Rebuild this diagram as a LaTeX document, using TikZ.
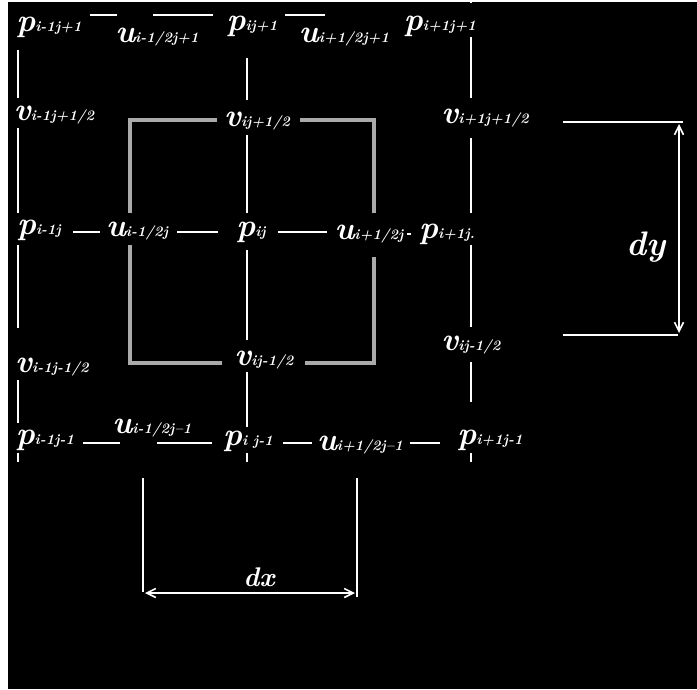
\documentclass[tikz,border=0pt]{standalone}
\usepackage{fontspec}
\usetikzlibrary{arrows.meta}
\definecolor{rectgray}{RGB}{170,170,170}
\newcommand\glab[2]{{\fontsize{32}{32}\selectfont #1}{\fontsize{14.5}{14.5}\selectfont\addfontfeature{LetterSpace=6}#2}}
\begin{document}
\begin{tikzpicture}[x=1pt,y=-1pt,
  lab/.style={text=white,inner sep=0pt,font=\bfseries\itshape},
  wl/.style={draw=white,line width=1.6pt},
  gr/.style={draw=rectgray,line width=4pt}]
\fill[white] (0,0) rectangle (697,689);
\fill[black] (8,2) rectangle (697,689);
\useasboundingbox (0,0) rectangle (697,689);

% labels
\node[lab] (P1) at (49,27) {\glab{p}{i-1j+1}};
\node[lab] (U1) at (157,37) {\glab{u}{i-1/2j+1}};
\node[lab] (P2) at (252,26) {\glab{p}{ij+1}};
\node[lab] (U2) at (344,37) {\glab{u}{i+1/2j+1}};
\node[lab] (P3) at (440,26) {\glab{p}{i+1j+1}};
\node[lab] (V1) at (54,115) {\glab{v}{i-1j+1/2}};
\node[lab] (V2) at (257,121) {\glab{v}{ij+1/2}};
\node[lab] (V3) at (485,118) {\glab{v}{i+1j+1/2}};
\node[lab] (P4) at (39,230) {\glab{p}{i-1j}};
\node[lab] (U3) at (137,231) {\glab{u}{i-1/2j}};
\node[lab] (P5) at (251,232) {\glab{p}{ij}};
\node[lab] (U4) at (369,234) {\glab{u}{i+1/2j}};
\node[lab] (P6) at (447,234) {\glab{p}{i+1j.}};
\node[lab] (V4) at (52,367) {\glab{v}{i-1j-1/2}};
\node[lab] (V5) at (264,360) {\glab{v}{ij-1/2}};
\node[lab] (V6) at (471,345) {\glab{v}{ij-1/2}};
\node[lab] (P7) at (45,440) {\glab{p}{i-1j-1}};
\node[lab] (U5) at (152,428) {\glab{u}{i-1/2j--1}};
\node[lab] (P8) at (248,441) {\glab{p}{i j-1}};
\node[lab] (U6) at (360,445) {\glab{u}{i+1/2j--1}};
\node[lab] (P9) at (490,440) {\glab{p}{i+1j-1}};
\node[lab] (DY) at (646,247) {\fontsize{34}{34}\selectfont dy};
\node[lab] (DX) at (259,577) {\fontsize{27}{27}\selectfont dx};

% horizontal grid segments
\foreach \n/\a/\b/\y in {h1/90/117/15, h2/153/213/15, h3/285/325/15,
   h4/73/100/232, h5/177/218/232, h6/278/327/232, h7/407/411/234,
   h8/83/120/443, h9/157/212/443, h10/283/312/443, h11/410/440/443}{
  \coordinate (\n a) at (\a,\y);
  \coordinate (\n b) at (\b,\y);
  \draw[wl] (\n a) -- (\n b);
}
% vertical grid segments
\foreach \n/\x/\a/\b in {v1/18/50/98, v2/18/128/213, v3/18/245/328, v4/18/380/423, v5/18/453/462,
   v6/247/58/100, v7/247/135/213, v8/247/250/340, v9/247/372/427, v10/247/453/462,
   v11/471/0/3, v12/471/37/98, v13/471/138/213, v14/471/245/327, v15/471/362/402, v16/471/453/462}{
  \coordinate (\n a) at (\x,\a);
  \coordinate (\n b) at (\x,\b);
  \draw[wl] (\n a) -- (\n b);
}

% gray control volume
\coordinate (r1) at (217,120); \coordinate (r2) at (130,120); \coordinate (r3) at (130,213);
\coordinate (r4) at (130,245); \coordinate (r5) at (130,363); \coordinate (r6) at (222,363);
\coordinate (r7) at (305,363); \coordinate (r8) at (374,363); \coordinate (r9) at (374,257);
\coordinate (r10) at (374,213); \coordinate (r11) at (374,120); \coordinate (r12) at (300,120);
\draw[gr] (r1) -- (r2) -- (r3);
\draw[gr] (r4) -- (r5) -- (r6);
\draw[gr] (r7) -- (r8) -- (r9);
\draw[gr] (r10) -- (r11) -- (r12);

% dy dimension
\coordinate (dyA) at (563,122); \coordinate (dyB) at (683,122);
\coordinate (dyC) at (563,335); \coordinate (dyD) at (678,335);
\coordinate (dyT) at (679,124); \coordinate (dyU) at (679,333);
\draw[wl] (dyA) -- (dyB);
\draw[wl] (dyC) -- (dyD);
\draw[wl,{Straight Barb[length=9pt,width=9pt]}-{Straight Barb[length=9pt,width=9pt]}] (dyT) -- (dyU);

% dx dimension
\coordinate (dxA) at (143,478); \coordinate (dxB) at (143,592);
\coordinate (dxC) at (357,478); \coordinate (dxD) at (357,597);
\coordinate (dxL) at (145,593); \coordinate (dxR) at (355,593);
\draw[wl] (dxA) -- (dxB);
\draw[wl] (dxC) -- (dxD);
\draw[wl,{Straight Barb[length=9pt,width=9pt]}-{Straight Barb[length=9pt,width=9pt]}] (dxL) -- (dxR);
\end{tikzpicture}
\end{document}
